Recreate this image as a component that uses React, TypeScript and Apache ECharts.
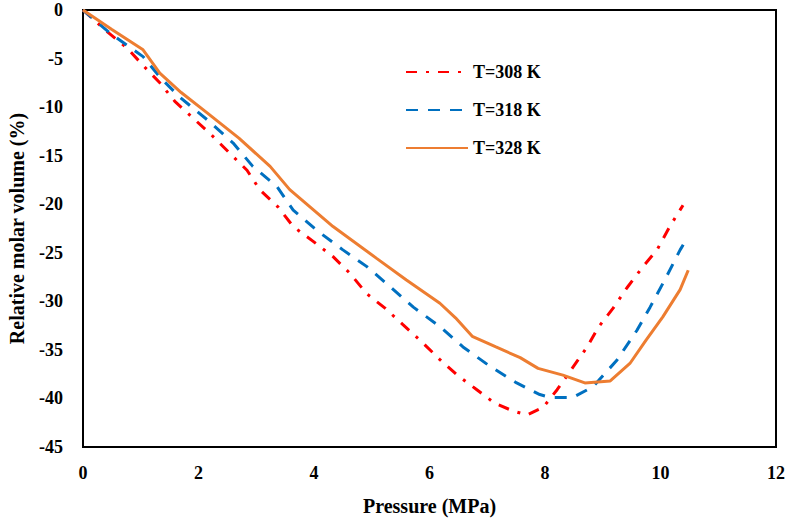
import React, { useEffect, useRef } from "react";
import * as echarts from "echarts";

const seriesNames = ["T=308 K", "T=318 K", "T=328 K"];

const p308 = [0, 0.17, 0.41, 0.76, 1.04, 1.33, 1.59, 1.9, 2.23, 2.55, 2.84, 3.06, 3.38, 3.64, 3.98, 4.33, 4.62, 4.91, 5.23, 5.54, 5.87, 6.18, 6.48, 6.82, 7.13, 7.45, 7.69, 7.97, 8.21, 8.47, 8.73, 8.92, 9.18, 9.42, 9.7, 9.94, 10.16, 10.39];
const v308 = [0, -0.9, -2.2, -3.9, -5.7, -7.5, -9.4, -11.1, -12.9, -14.8, -16.5, -18.5, -20.3, -22.3, -23.8, -25.4, -27.1, -29.2, -30.7, -32.4, -34.2, -36.0, -37.6, -39.1, -40.5, -41.3, -41.7, -40.9, -39.1, -36.9, -34.7, -32.7, -30.7, -28.6, -26.4, -24.7, -22.3, -20.1];

const p318 = [0, 0.47, 1.04, 1.33, 1.68, 2.15, 2.6, 2.94, 3.36, 3.64, 4.05, 4.5, 4.91, 5.32, 5.72, 6.18, 6.58, 7.05, 7.51, 7.91, 8.09, 8.48, 8.83, 9.24, 9.59, 9.82, 10.1, 10.34, 10.44];
const v318 = [0, -2.4, -4.8, -6.9, -9.0, -11.3, -13.7, -16.1, -18.2, -20.6, -22.7, -24.7, -26.4, -28.5, -30.6, -32.6, -34.7, -36.7, -38.4, -39.6, -39.9, -39.9, -38.8, -36.1, -33.0, -30.6, -27.5, -24.7, -23.7];

const p328 = [0, 0.5, 1.04, 1.33, 1.7, 2.15, 2.7, 3.24, 3.58, 4.33, 5.09, 5.6, 6.18, 6.45, 6.74, 7.15, 7.57, 7.88, 8.31, 8.69, 9.13, 9.47, 9.75, 10.04, 10.34, 10.48];
const v328 = [0, -2.0, -4.1, -6.5, -8.5, -10.6, -13.2, -16.1, -18.5, -22.3, -25.6, -27.8, -30.2, -31.7, -33.6, -34.7, -35.8, -36.9, -37.6, -38.4, -38.2, -36.4, -34.0, -31.6, -28.8, -26.8];

const xTicks = [0, 2, 4, 6, 8, 10, 12];
const yTicks = [0, -5, -10, -15, -20, -25, -30, -35, -40, -45];

const colors = ["#FF0000", "#0070C0", "#ED7D31"];

const zip = (xs: number[], ys: number[]) => xs.map((x, i) => [x, ys[i]]);

export default function App() {
  const ref = useRef<HTMLDivElement>(null);
  useEffect(() => {
    if (!ref.current) return;
    const chart = echarts.init(ref.current, undefined, { renderer: "svg" });
    const font = "Times New Roman";
    const lineTypes: any[] = [[11, 9, 3, 9], [12, 10], "solid"];
    const data = [zip(p308, v308), zip(p318, v318), zip(p328, v328)];
    chart.setOption({
      animation: false,
      backgroundColor: "#ffffff",
      textStyle: { fontFamily: font },
      grid: {
        left: 83,
        top: 10,
        right: 16,
        bottom: 76,
        show: true,
        borderColor: "#000",
        borderWidth: 2,
        containLabel: false,
        outerBoundsMode: "none",
      },
      legend: {
        orient: "vertical",
        left: 400,
        top: 58,
        itemWidth: 62,
        itemHeight: 14,
        itemGap: 20,
        itemStyle: { opacity: 0, borderWidth: 0 },
        textStyle: { fontFamily: font, fontWeight: "bold", fontSize: 18, color: "#000" },
        data: seriesNames,
      },
      xAxis: {
        type: "value",
        min: xTicks[0],
        max: xTicks[xTicks.length - 1],
        interval: 2,
        splitLine: { show: false },
        axisTick: { show: false },
        axisLine: { show: true, lineStyle: { color: "#000", width: 2 } },
        axisLabel: { fontFamily: font, fontWeight: "bold", fontSize: 18, color: "#000", margin: 17 },
        name: "Pressure (MPa)",
        nameLocation: "middle",
        nameGap: 49,
        nameTextStyle: { fontFamily: font, fontWeight: "bold", fontSize: 20, color: "#000" },
      },
      yAxis: {
        type: "value",
        min: yTicks[yTicks.length - 1],
        max: yTicks[0],
        interval: 5,
        splitLine: { show: false },
        axisTick: { show: false },
        axisLine: { show: true, onZero: false, lineStyle: { color: "#000", width: 2 } },
        axisLabel: { fontFamily: font, fontWeight: "bold", fontSize: 18, color: "#000", margin: 20 },
        name: "Relative molar volume (%)",
        nameLocation: "middle",
        nameGap: 56,
        nameTextStyle: { fontFamily: font, fontWeight: "bold", fontSize: 20, color: "#000" },
      },
      series: seriesNames.map((name, i) => ({
        name,
        type: "line",
        data: data[i],
        symbol: "none",
        color: colors[i],
        lineStyle: { color: colors[i], width: 3, type: lineTypes[i] },
      })),
    });
    return () => chart.dispose();
  }, []);
  return <div ref={ref} style={{ width: 792, height: 523, position: "absolute", left: 0, top: 0 }} />;
}
